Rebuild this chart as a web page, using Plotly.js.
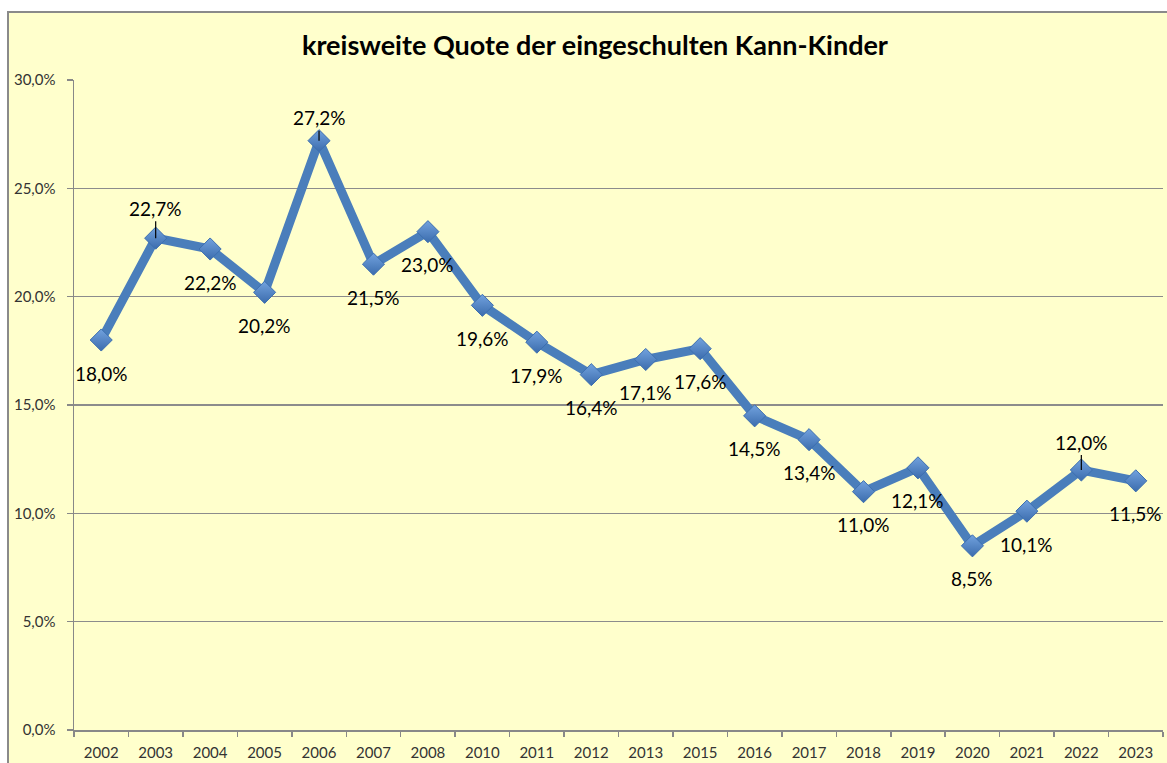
<!DOCTYPE html>
<html>
<head>
<meta charset="utf-8">
<script src="https://cdn.plot.ly/plotly-3.0.1.min.js"></script>
<style>
  html, body { margin: 0; padding: 0; background: #ffffff; }
  #chart { width: 1167px; height: 763px; }
</style>
</head>
<body>
<div id="chart"></div>
<script>
// ---- Data ----
const years = ["2002","2003","2004","2005","2006","2007","2008","2010","2011","2012",
               "2013","2015","2016","2017","2018","2019","2020","2021","2022","2023"];
const quote = [0.180,0.227,0.222,0.202,0.272,0.215,0.230,0.196,0.179,0.164,
               0.171,0.176,0.145,0.134,0.110,0.121,0.085,0.101,0.120,0.115];
const yTickVals = [0,0.05,0.10,0.15,0.20,0.25,0.30];
const chartTitle = "kreisweite Quote der eingeschulten Kann-Kinder";

// label placement (style): labels with leader lines sit above the marker
const aboveWithLeader = ["2003","2006","2022"];
const aboveOffset = {"2003": -30, "2006": -23, "2022": -28};

function fmtPct(v) {
  return (v * 100).toFixed(1).replace('.', ',') + '%';
}

// category positions on the x axis (index of each year)
const xPos = years.map((_, i) => i);
const xBoundaries = years.map((_, i) => i - 0.5).concat([years.length - 0.5]);

const FONT = "Lato, 'Open Sans', sans-serif";

const trace = {
  type: 'scatter',
  mode: 'lines+markers',
  x: xPos,
  y: quote,
  line: { color: '#4A7EBB', width: 9 },
  marker: {
    symbol: 'diamond',
    size: 17,
    color: '#72A2DE',
    gradient: { type: 'vertical', color: '#3B6CAD' },
    line: { color: '#3D6FB0', width: 1 }
  },
  hoverinfo: 'y',
  cliponaxis: false
};

const annotations = years.map((yr, i) => {
  const above = aboveWithLeader.indexOf(yr) >= 0;
  if (above) {
    return {
      x: xPos[i], y: quote[i], xref: 'x', yref: 'y',
      text: fmtPct(quote[i]),
      showarrow: true, arrowhead: 0, arrowwidth: 1.2, arrowcolor: '#000000',
      ax: 0, ay: aboveOffset[yr], standoff: 0,
      font: { family: FONT, size: 19, color: '#000000' }
    };
  }
  return {
    x: xPos[i], y: quote[i], xref: 'x', yref: 'y',
    text: fmtPct(quote[i]),
    showarrow: false, yshift: -33,
    font: { family: FONT, size: 19, color: '#000000' }
  };
});

// plot area: x 74..1163, y 80..730
const L = 74, R = 4, T = 80, B = 33;
const pw = 1167 - L - R, ph = 763 - T - B;
const frameX0 = (8 - L) / pw, frameY1 = 1 + (T - 12) / ph;

annotations.push({
  xref: 'paper', yref: 'paper',
  x: (595 - L) / pw, y: 1 + (T - 45) / ph,
  xanchor: 'center', yanchor: 'middle',
  text: '<b>' + chartTitle + '</b>',
  showarrow: false,
  font: { family: FONT, size: 27, color: '#000000' }
});

const layout = {
  width: 1167,
  height: 763,
  margin: { l: L, r: R, t: T, b: B, pad: 0 },
  paper_bgcolor: '#ffffff',
  plot_bgcolor: 'rgba(0,0,0,0)',
  separators: ',.',
  showlegend: false,
  font: { family: FONT, color: '#333333' },
  xaxis: {
    type: 'linear',
    range: [-0.5, years.length - 0.5],
    tickmode: 'array',
    tickvals: xPos,
    ticktext: years,
    ticks: '',
    tickangle: 0,
    ticklabelstandoff: 8,
    showgrid: false,
    zeroline: false,
    showline: true,
    linecolor: '#888888',
    linewidth: 1.5,
    tickfont: { family: FONT, size: 15, color: '#333333' },
    minor: {
      tickmode: 'array',
      tickvals: xBoundaries,
      ticks: 'outside',
      ticklen: 5,
      tickwidth: 1.5,
      tickcolor: '#888888',
      showgrid: false
    },
    fixedrange: true
  },
  yaxis: {
    range: [0, 0.30],
    tickmode: 'array',
    tickvals: yTickVals,
    tickformat: '.1%',
    ticks: 'outside',
    ticklen: 6,
    tickwidth: 1.5,
    tickcolor: '#888888',
    ticklabelstandoff: 8,
    showgrid: true,
    gridcolor: '#8c8c8c',
    gridwidth: 1.2,
    zeroline: false,
    showline: true,
    linecolor: '#888888',
    linewidth: 1.5,
    tickfont: { family: FONT, size: 15, color: '#333333' },
    fixedrange: true
  },
  shapes: [{
    type: 'rect', xref: 'paper', yref: 'paper', layer: 'below',
    x0: frameX0, x1: 1.05, y0: -0.2, y1: frameY1,
    fillcolor: '#FFFFCC',
    line: { color: '#8a8a8a', width: 2 }
  }],
  annotations: annotations
};

Plotly.newPlot('chart', [trace], layout, { displayModeBar: false, staticPlot: true });
</script>
</body>
</html>
